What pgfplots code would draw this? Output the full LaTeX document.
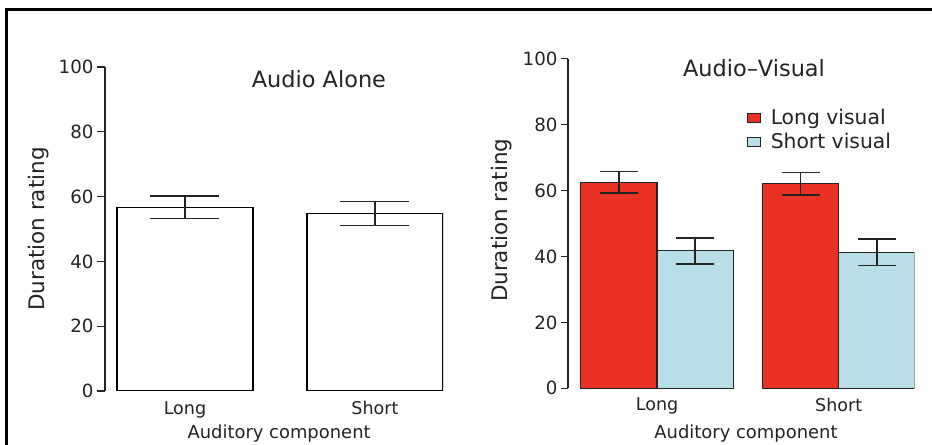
\documentclass[border=0pt]{standalone}
\usepackage{pgfplots}
\pgfplotsset{compat=1.18}
\usepackage{fontspec}
\setmainfont{DejaVu Sans}
\definecolor{barred}{RGB}{233,50,36}
\definecolor{barblue}{RGB}{184,222,232}
\definecolor{axgray}{RGB}{35,35,35}
\begin{document}
\begin{tikzpicture}
\path[use as bounding box] (0,0) rectangle (932bp,445bp);
\draw[line width=2.6bp, black] (932bp,435.5bp) -- (6.5bp,435.5bp) -- (6.5bp,0bp);

\pgfplotsset{
  mystyle/.style={
    scale only axis,
    enlargelimits=false,
    ymin=0, ymax=100,
    ytick={0,20,40,60,80,100},
    axis y line*=left,
    axis x line*=bottom,
    x axis line style={draw=none},
    y axis line style={draw=axgray, line width=1.3bp},
    ytick style={draw=axgray, line width=1.3bp},
    xtick style={draw=none},
    tick align=outside,
    xtick={0,1},
    xticklabels={Long,Short},
    /pgf/number format/assume math mode=true,
    yticklabel style={font=\fontsize{18.3}{20}\selectfont, text=axgray},
    xticklabel style={font=\fontsize{17.6}{20}\selectfont, text=axgray, yshift=1bp},
    label style={text=axgray},
    ylabel={Duration rating},
    xlabel={Auditory component},
    error bars/y dir=both,
    error bars/y explicit,
    error bars/error mark=|,
    error bars/error bar style={draw=axgray, line width=1.4bp},
  }
}

% Left panel: Audio Alone
\begin{axis}[
  mystyle,
  at={(105bp,54bp)}, anchor=south west,
  width=338bp, height=324bp,
  xmin=-0.421, xmax=1.358,
  major tick length=8bp,
  ybar, bar width=136bp,
  ylabel style={at={(axis description cs:-0.195,0.5)}, anchor=center, font=\fontsize{21.5}{24}\selectfont},
  xlabel style={at={(axis description cs:0.515,-0.130)}, anchor=center, font=\fontsize{18}{20}\selectfont},
  title={Audio Alone},
  title style={at={(axis description cs:0.633,0.944)}, anchor=center, font=\fontsize{22.5}{25}\selectfont, text=axgray},
  error bars/error mark options={mark size=34.5bp, line width=1.4bp, draw=axgray},
]
\addplot[draw=black, fill=white, line width=1.2bp] coordinates {(0,56.7) +- (0,3.5) (1,54.8) +- (0,3.65)};
\end{axis}

% Right panel: Audio-Visual
\begin{axis}[
  mystyle,
  at={(568bp,56.7bp)}, anchor=south west,
  width=346.3bp, height=329.5bp,
  xmin=-0.490, xmax=1.416,
  major tick length=7bp,
  ybar=0pt, bar width=76.3bp,
  ylabel style={at={(axis description cs:-0.193,0.51)}, anchor=center, font=\fontsize{21.5}{24}\selectfont},
  xlabel style={at={(axis description cs:0.514,-0.136)}, anchor=center, font=\fontsize{18}{20}\selectfont},
  title={Audio\textendash Visual},
  title style={at={(axis description cs:0.537,0.952)}, anchor=center, font=\fontsize{22.5}{25}\selectfont, text=axgray},
  error bars/error mark options={mark size=19bp, line width=1.4bp, draw=axgray},
  legend style={at={(axis description cs:0.515,0.850)}, anchor=north west, draw=none, fill=none,
    font=\fontsize{20.4}{21}\selectfont, text=axgray, inner sep=0pt, row sep=5bp,
    nodes={inner sep=1bp}},
  legend cell align=left,
  legend image code/.code={\fill[white, opacity=0] (0bp,-4.5bp) rectangle (22bp,4.5bp);
    \draw[#1, line width=1.2bp] (0bp,-4.5bp) rectangle (13bp,4.5bp);},
]
\addplot[draw=axgray, fill=barred, line width=1.2bp] coordinates {(0,62.5) +- (0,3.25) (1,62.1) +- (0,3.45)};
\addlegendentry{Long visual}
\addplot[draw=axgray, fill=barblue, line width=1.2bp] coordinates {(0,41.7) +- (0,3.95) (1,41.3) +- (0,4.0)};
\addlegendentry{Short visual}
\end{axis}
\end{tikzpicture}
\end{document}
